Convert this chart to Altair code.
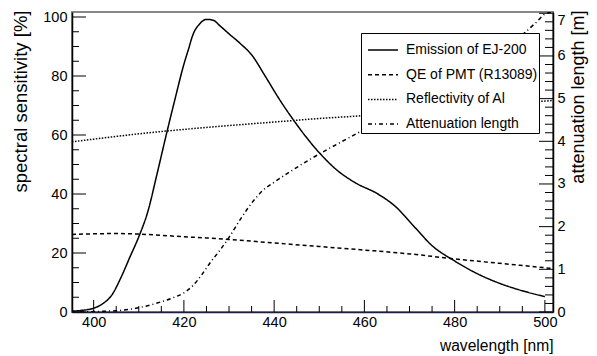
import altair as alt
import pandas as pd

# ---- data ----
series_names = ["Emission of EJ-200", "QE of PMT (R13089)", "Reflectivity of Al", "Attenuation length"]

wl_emis = [395.2, 397, 400, 402, 404, 406, 408, 410, 412, 414, 416, 418, 420, 421, 422, 423.5,
           425, 426.5, 428, 430, 432.5, 435, 438, 441, 444, 447, 450, 454, 458, 463, 467, 471,
           475, 480, 485, 490, 495, 500]
emis = [0.3, 0.5, 1.3, 2.8, 5.7, 11.5, 18.5, 25.5, 34, 46.5, 59.5, 72, 84, 89, 94, 97.7,
        99.2, 98.9, 97, 94.3, 91, 87.2, 80, 72.5, 65.7, 59.5, 54, 48, 43.8, 40, 35.6, 29,
        22.5, 17.3, 13.0, 9.7, 7.2, 5.2]

wl_qe = [395.2, 400, 405, 410, 415, 420, 425, 430, 440, 450, 460, 470, 480, 490, 500, 501.8]
qe = [26.3, 26.5, 26.6, 26.4, 26.0, 25.5, 25.1, 24.6, 23.4, 22.2, 21.0, 19.7, 18.0, 16.5, 15.0, 14.7]

wl_refl = [395.2, 400, 410, 420, 430, 440, 450, 460, 470, 480, 490, 500, 501.8]
refl = [57.7, 58.6, 60.4, 61.9, 63.2, 64.4, 65.6, 66.6, 68.0, 69.3, 70.5, 71.5, 71.7]

wl_att = [397, 400, 405, 410, 415, 418, 420, 422, 424, 426, 428, 430, 432.5, 435, 437.5,
          440, 444, 448, 452, 456, 460, 465, 470, 475, 480, 485, 490, 495, 498, 500, 501.5]
att = [0.0, 0.01, 0.03, 0.1, 0.24, 0.35, 0.45, 0.62, 0.88, 1.18, 1.45, 1.75, 2.17, 2.55, 2.85,
       3.04, 3.32, 3.58, 3.82, 4.05, 4.28, 4.58, 4.88, 5.18, 5.5, 5.83, 6.17, 6.5, 6.78, 6.98, 7.03]

x_domain = [395.2, 501.8]
yl_domain = [0, 101.7]
yr_domain = [0, 7.03]

x_major = [400, 420, 440, 460, 480, 500]
x_minor = [v for v in range(400, 501, 5) if v % 20 != 0]
yl_major = [0, 20, 40, 60, 80, 100]
yl_minor = [v for v in range(0, 101, 5) if v % 20 != 0]
yr_major = [0, 1, 2, 3, 4, 5, 6, 7]
yr_minor = [round(i * 0.2, 1) for i in range(0, 36) if i % 5 != 0]

dash_styles = [[1, 0], [4, 3], [1.5, 1.5], [4, 3, 1, 3]]

# ---- build tables ----
left_df = pd.concat([
    pd.DataFrame({"wl": wl_emis, "v": emis, "series": series_names[0]}),
    pd.DataFrame({"wl": wl_qe, "v": qe, "series": series_names[1]}),
    pd.DataFrame({"wl": wl_refl, "v": refl, "series": series_names[2]}),
])
right_df = pd.DataFrame({"wl": wl_att, "v": att, "series": series_names[3]})

FONT = "Liberation Sans"
W, H = 481, 300

xs = alt.Scale(domain=x_domain, nice=False, zero=False)
dash_scale = alt.Scale(domain=series_names, range=dash_styles)

legend = alt.Legend(
    title=None, orient="none", legendX=289, legendY=21,
    symbolType="stroke", symbolSize=900, symbolStrokeWidth=1.5, symbolStrokeColor="black",
    symbolOffset=5,
    labelFont=FONT, labelFontSize=14, labelColor="black", labelOffset=7,
    strokeColor="black", fillColor="white", padding=1, rowPadding=1.7,
    labelLimit=300,
)

x_axis = alt.Axis(
    values=x_major, ticks=False, domain=True, domainColor="#1c1c48", domainWidth=1.5,
    grid=False, labelFont=FONT, labelFontSize=14.5, labelColor="black", labelPadding=3,
    title="wavelength [nm]", titleFont=FONT, titleFontSize=15.6, titleFontWeight="normal",
    titleColor="black", titleAlign="right", titleBaseline="middle", titleX=W, titleY=33,
)

left_lines = alt.Chart(left_df).mark_line(color="black", strokeWidth=1.5, clip=True,
                                          interpolate="monotone").encode(
    x=alt.X("wl:Q", scale=xs, axis=x_axis),
    y=alt.Y("v:Q", scale=alt.Scale(domain=yl_domain, nice=False, zero=False),
            axis=alt.Axis(orient="left", values=yl_major, ticks=False, domain=True,
                          domainColor="black", domainWidth=1.5, grid=False,
                          labelFont=FONT, labelFontSize=14.5, labelColor="black", labelPadding=5,
                          title="spectral sensitivity [%]", titleFont=FONT, titleFontSize=18.5,
                          titleFontWeight="normal", titleColor="black", titleAlign="right",
                          titleBaseline="middle", titleAngle=270, titleX=-52, titleY=-2)),
    strokeDash=alt.StrokeDash("series:N", scale=dash_scale, legend=legend),
    detail="series:N",
)

right_line = alt.Chart(right_df).mark_line(color="black", strokeWidth=1.5, clip=True,
                                           interpolate="monotone").encode(
    x=alt.X("wl:Q", scale=xs),
    y=alt.Y("v:Q", scale=alt.Scale(domain=yr_domain, nice=False, zero=False),
            axis=alt.Axis(orient="right", values=yr_major, ticks=False, domain=True,
                          domainColor="black", domainWidth=1.5, grid=False,
                          labelFont=FONT, labelFontSize=14.5, labelColor="black", labelPadding=4,
                          labelBaseline={"expr": "datum.value == 7 ? 'top' : 'middle'"},
                          title="attenuation length [m]", titleFont=FONT, titleFontSize=18,
                          titleFontWeight="normal", titleColor="black", titleAlign="right",
                          titleBaseline="middle", titleAngle=270, titleX=25.5, titleY=-2)),
    strokeDash=alt.StrokeDash("series:N", scale=dash_scale, legend=legend),
)

def xticks(vals, length):
    return alt.Chart(pd.DataFrame({"t": vals})).mark_rule(color="black", strokeWidth=1).encode(
        x=alt.X("t:Q", scale=xs), y=alt.value(H), y2=alt.value(H - length))

def yticks(vals, domain, x0, x1):
    return alt.Chart(pd.DataFrame({"t": vals})).mark_rule(color="black", strokeWidth=1).encode(
        y=alt.Y("t:Q", scale=alt.Scale(domain=domain, nice=False, zero=False), axis=None),
        x=alt.value(x0), x2=alt.value(x1))

chart = alt.layer(
    left_lines,
    right_line,
    xticks(x_major, 12),
    xticks(x_minor, 6),
    yticks(yl_major, yl_domain, 0, 14),
    yticks(yl_minor, yl_domain, 0, 7),
    yticks(yr_major, yr_domain, W, W - 14),
    yticks(yr_minor, yr_domain, W, W - 8),
).resolve_scale(y="independent", strokeDash="shared").properties(
    width=W, height=H,
    padding={"left": 64, "top": 4, "right": 36, "bottom": 42},
    autosize=alt.AutoSizeParams(type="none"),
    background="white",
).configure_view(stroke="#888888", strokeWidth=2)

chart.save("out.html", embed_options={"renderer": "svg", "actions": False})
